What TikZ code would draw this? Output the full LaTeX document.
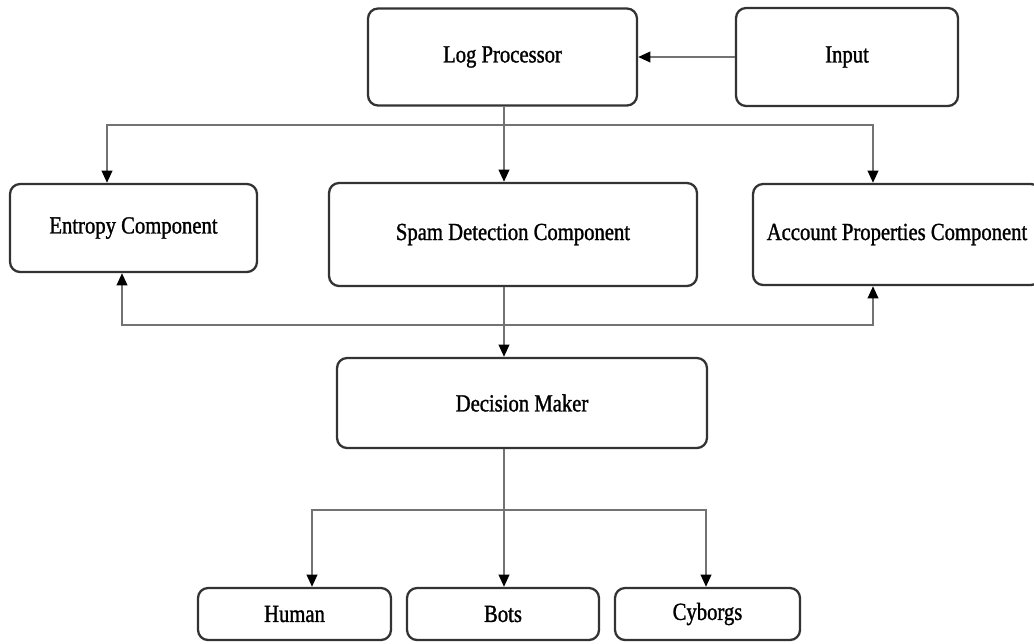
\documentclass[tikz,border=0pt]{standalone}
\usepackage{fontspec}
\setmainfont{Liberation Serif}[FakeStretch=0.84, FakeBold=1.2]
\usepackage{tikz}
\usetikzlibrary{arrows.meta}

\begin{document}
\begin{tikzpicture}[x = .02cm, y = -.02cm,
        box/.style = {draw = black!80, line width = 1.3pt, rounded corners = .2cm,
                      fill = white, inner sep = 0pt,
                      font = \fontsize{14}{16}\selectfont},
        wire/.style = {draw = black!55, line width = 1.3pt},
        > = {Triangle[length = 7pt, width = 6pt, color = black]}]
        \useasboundingbox (0,0) rectangle (1034,643);
        \clip (0,0) rectangle (1034,643);
        \node[box, minimum width = 5.38cm, minimum height = 1.94cm] (logp) at (502.5,57) {Log Processor};
        \node[box, minimum width = 4.44cm, minimum height = 1.96cm] (input) at (847,57) {Input};
        \node[box, minimum width = 4.94cm, minimum height = 1.76cm] (entropy) at (133.5,228) {Entropy Component};
        \node[box, minimum width = 7.36cm, minimum height = 2.06cm] (spam) at (513,234.5) {Spam Detection Component};
        \node[box, minimum width = 5.76cm, minimum height = 2.02cm] (account) at (897,234.5) {Account Properties Component};
        \node[box, minimum width = 7.4cm, minimum height = 1.8cm] (decision) at (522,403) {Decision Maker};
        \node[box, minimum width = 3.86cm, minimum height = 1.04cm] (human) at (294.5,614) {Human};
        \node[box, minimum width = 3.84cm, minimum height = 1.04cm] (bots) at (503,614) {Bots};
        \node[box, minimum width = 3.7cm, minimum height = 1.04cm] (cyborgs) at (707.5,614) {Cyborgs};
        \coordinate (fork1) at (504,125);
        \coordinate (fork1l) at (107,125);
        \coordinate (fork1r) at (873,125);
        \coordinate (fork2) at (504,325);
        \coordinate (fork2l) at (122,325);
        \coordinate (fork2r) at (873,325);
        \coordinate (fork3) at (504,510);
        \coordinate (fork3l) at (312,510);
        \coordinate (fork3r) at (706,510);
        \draw[wire, ->] (input) -- (logp);
        \draw[wire] (logp.south -| fork1) -- (fork1);
        \draw[wire, ->] (fork1) -- (fork1 |- spam.north);
        \draw[wire, ->] (fork1) -- (fork1l) -- (fork1l |- entropy.north);
        \draw[wire, ->] (fork1) -- (fork1r) -- (fork1r |- account.north);
        \draw[wire, ->] (spam.south -| fork2) -- (fork2 |- decision.north);
        \draw[wire, ->] (fork2) -- (fork2l) -- (fork2l |- entropy.south);
        \draw[wire, ->] (fork2) -- (fork2r) -- (fork2r |- account.south);
        \draw[wire] (decision.south -| fork3) -- (fork3);
        \draw[wire, ->] (fork3) -- (fork3 |- bots.north);
        \draw[wire, ->] (fork3) -- (fork3l) -- (fork3l |- human.north);
        \draw[wire, ->] (fork3) -- (fork3r) -- (fork3r |- cyborgs.north);
\end{tikzpicture}
\end{document}
